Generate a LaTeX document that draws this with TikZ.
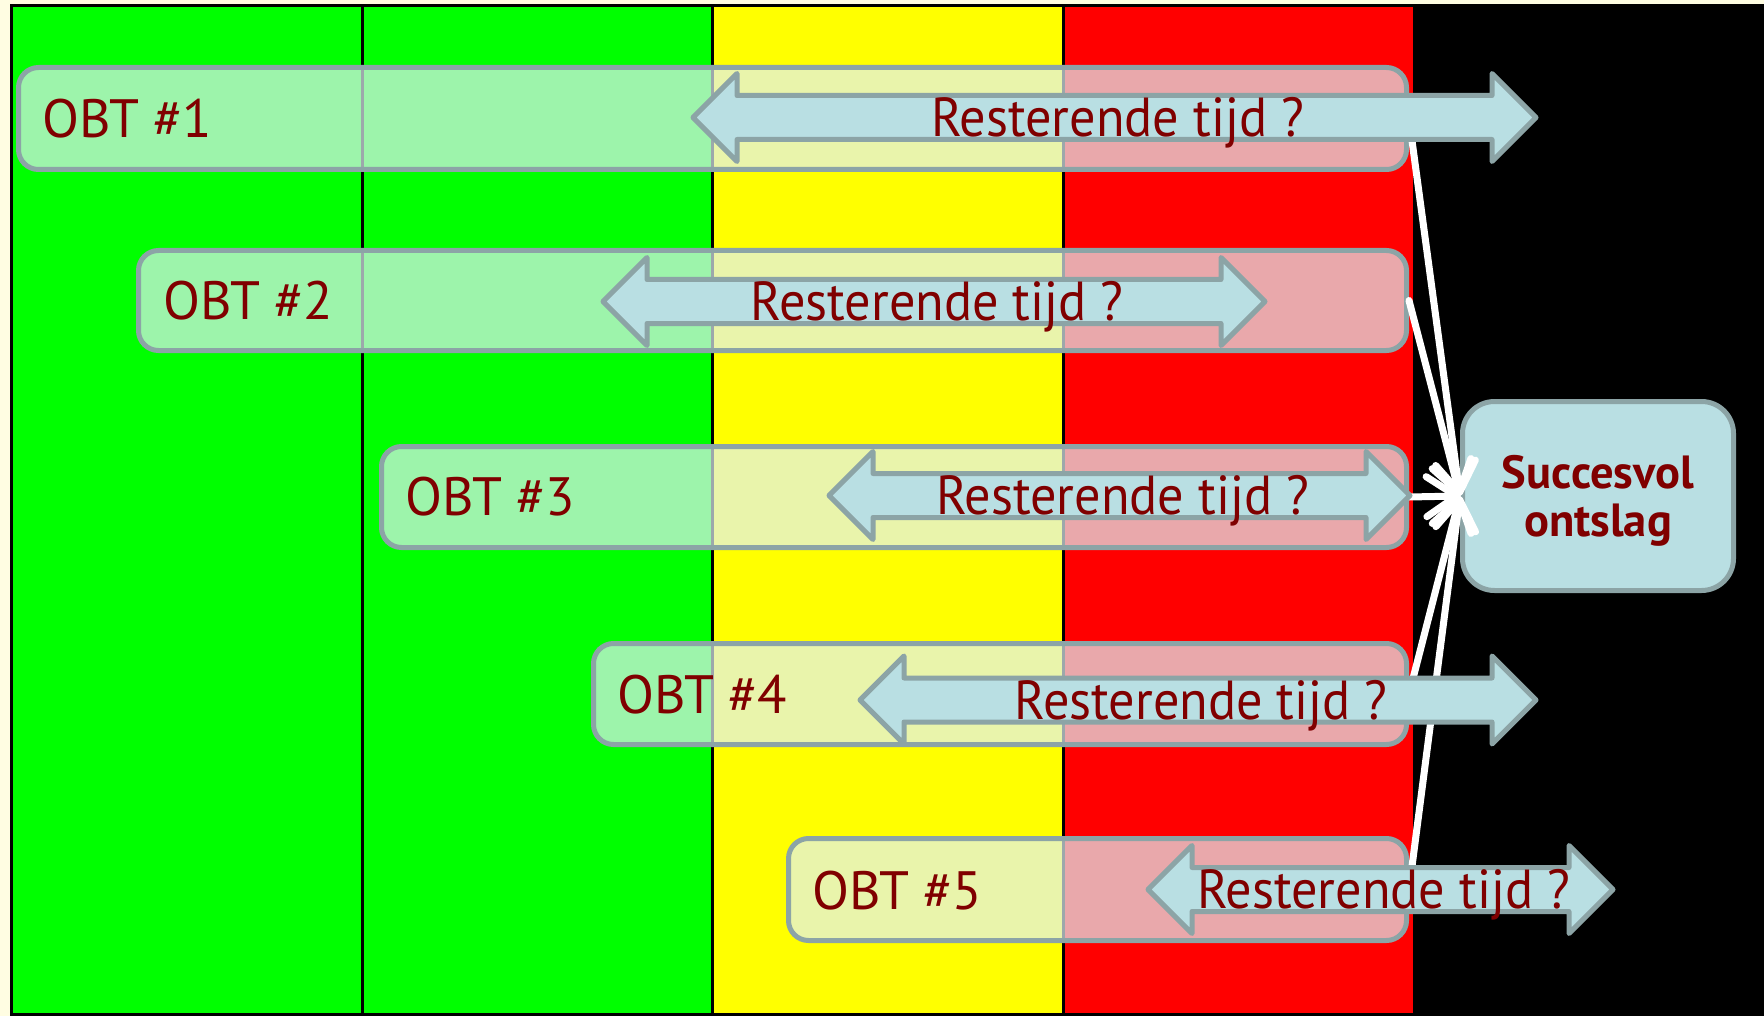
\documentclass[tikz,border=0pt]{standalone}
\usepackage{fontspec}
\setmainfont{PT Sans}
\newfontfamily\arrowfont[FakeStretch=0.95]{PT Sans}
\usetikzlibrary{arrows.meta}
\definecolor{cream}{RGB}{255,253,226}
\definecolor{bandgreen}{RGB}{0,255,0}
\definecolor{bandyellow}{RGB}{255,255,0}
\definecolor{bandred}{RGB}{255,0,0}
\definecolor{edgegray}{RGB}{140,164,166}
\definecolor{arrowblue}{RGB}{185,223,227}
\definecolor{txtred}{RGB}{128,0,0}
\definecolor{boxtint}{RGB}{225,240,245}
\newcommand{\dblarrow}[4]{%
  \draw[arrowshape] (#2+3,#4) -- (#2+47,#4-44) -- (#2+47,#4-22) -- (#3-47,#4-22)
    -- (#3-47,#4-44) -- (#3-3,#4) -- (#3-47,#4+44) -- (#3-47,#4+22)
    -- (#2+47,#4+22) -- (#2+47,#4+44) -- cycle;
  \node[arrowtext, anchor=base] (#1) at ({(#2+#3)/2+3},#4+19) {Resterende tijd ?};
}
\begin{document}
\begin{tikzpicture}[x=1pt,y=-1pt,
  obtbox/.style={draw=edgegray, line width=5pt, rounded corners=20pt, fill=boxtint,
    fill opacity=0.7, draw opacity=1, inner sep=0pt},
  obtlabel/.style={anchor=west, inner sep=0pt, text=txtred, font=\fontsize{54}{60}\selectfont},
  arrowshape/.style={draw=edgegray, line width=5pt, line join=round, fill=arrowblue},
  arrowtext/.style={inner sep=0pt, text=txtred, font=\arrowfont\fontsize{55}{60}\selectfont},
  succbox/.style={draw=edgegray, line width=5pt, rounded corners=32pt, fill=arrowblue},
  succtext/.style={text=txtred, align=center, inner sep=0pt,
    font=\fontsize{46.5}{48.5}\selectfont\bfseries},
  conn/.style={white, line width=7pt, line cap=round,
    -{Straight Barb[length=30pt,width=40pt,round]}},
  divider/.style={black, line width=3pt}
]
\useasboundingbox (0,0) rectangle (1764,1016);
\fill[cream] (0,0) rectangle (1764,1016);
% bands
\fill[bandgreen] (11,5.5) rectangle (712,1016);
\fill[bandyellow] (712,5.5) rectangle (1063,1016);
\fill[bandred] (1063,5.5) rectangle (1413,1016);
\fill[black] (1413,4) rectangle (1764,1016);
% frame and dividers
\draw[divider] (11,1016) -- (11,5.5) -- (1764,5.5);
\draw[divider] (11,1014.5) -- (1764,1014.5);
\draw[divider] (362,5.5) -- (362,1016);
\draw[divider] (712,5.5) -- (712,1016);
\draw[divider] (1063,5.5) -- (1063,1016);
% OBT boxes
\node[obtbox, minimum width=1388, minimum height=102] (b1) at (712.5,118.5) {};
\node[obtbox, minimum width=1268, minimum height=100] (b2) at (772.5,300.5) {};
\node[obtbox, minimum width=1025, minimum height=101] (b3) at (894,497) {};
\node[obtbox, minimum width=813, minimum height=101] (b4) at (1000,694) {};
\node[obtbox, minimum width=618, minimum height=102] (b5) at (1097.5,889.5) {};
% labels
\node[obtlabel] (l1) at (42,119) {OBT \#1};
\node[obtlabel] (l2) at (163,301) {OBT \#2};
\node[obtlabel] (l3) at (405,497) {OBT \#3};
\node[obtlabel] (l4) at (617,695) {OBT \#4};
\node[obtlabel] (l5) at (812,891) {OBT \#5};
% target
\node[succbox, minimum width=271, minimum height=189] (succ) at (1598,496) {};
\node[succtext] (succt) at (1598,501) {Succesvol\\ontslag};
% connectors
\draw[conn] (b1.east) -- (succ.west);
\draw[conn] (b2.east) -- (succ.west);
\draw[conn] (b3.east) -- (succ.west);
\draw[conn] (b4.east) -- (succ.west);
\draw[conn] (b5.east) -- (succ.west);
% double arrows
\dblarrow{a1}{690}{1539}{117.5}
\dblarrow{a2}{600}{1268}{301.5}
\dblarrow{a3}{826}{1413}{495.5}
\dblarrow{a4}{857}{1539}{700}
\dblarrow{a5}{1145}{1616}{889.5}
\end{tikzpicture}
\end{document}
